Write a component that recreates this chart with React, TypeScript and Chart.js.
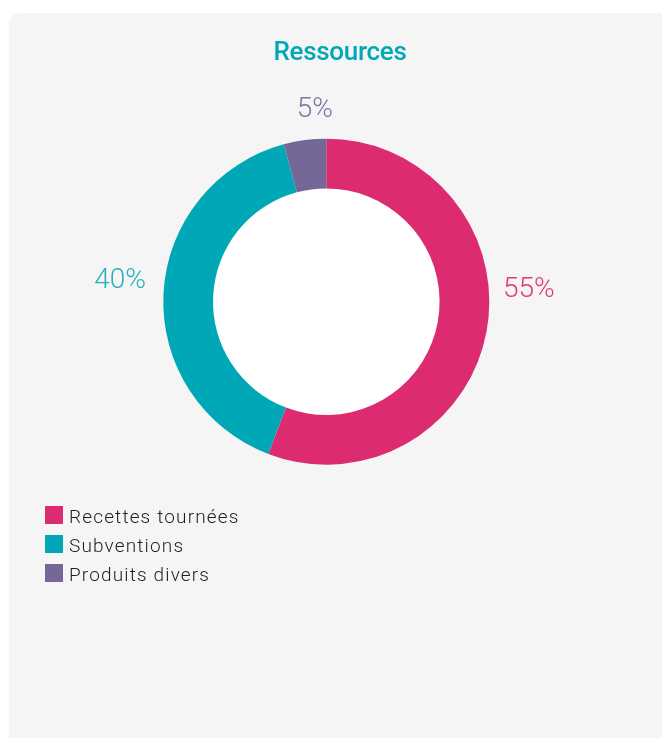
import React, { useEffect, useRef } from "react";
import { Chart, registerables } from "chart.js";

Chart.register(...registerables);

const titleText = "Ressources";
const categories = ["Recettes tournées", "Subventions", "Produits divers"];
const shares = [55.8, 40.0, 4.2];
const shareLabels = ["55%", "40%", "5%"];
const sliceColors = ["#dc2b70", "#00a8b7", "#766799"];
const labelColors = ["#e23a78", "#2cb0bc", "#8073a5"];

const labelNudges: [number, number][] = [
  [2.6, -36.8],
  [-3.5, -4.6],
  [14.1, 8.6],
];

const decorPlugin = {
  id: "decor",
  beforeDatasetsDraw(chart: any) {
    const meta = chart.getDatasetMeta(0);
    const arc = meta.data[0];
    if (!arc) return;
    const { x, y, innerRadius } = arc.getProps(["x", "y", "innerRadius"], true);
    const ctx = chart.ctx;
    ctx.save();
    ctx.beginPath();
    ctx.arc(x, y, innerRadius, 0, Math.PI * 2);
    ctx.fillStyle = "#ffffff";
    ctx.fill();
    ctx.restore();
  },
  afterDraw(chart: any) {
    const ctx = chart.ctx;
    const meta = chart.getDatasetMeta(0);
    ctx.save();
    // title
    ctx.font = "500 26px Roboto";
    (ctx as any).letterSpacing = "-0.3px";
    ctx.fillStyle = "#00a8b5";
    ctx.textAlign = "center";
    ctx.textBaseline = "alphabetic";
    ctx.fillText(titleText, 340, 60);

    // slice labels
    ctx.font = "300 28px Roboto";
    (ctx as any).letterSpacing = "0px";
    meta.data.forEach((el: any, i: number) => {
      const { startAngle, endAngle, outerRadius, x, y } = el.getProps(
        ["startAngle", "endAngle", "outerRadius", "x", "y"],
        true
      );
      const mid = (startAngle + endAngle) / 2;
      const c = Math.cos(mid);
      const s = Math.sin(mid);
      let align: CanvasTextAlign = "center";
      let r = outerRadius + 32;
      if (Math.abs(c) > 0.5) {
        align = c > 0 ? "left" : "right";
        r = outerRadius + 14;
      }
      const n = labelNudges[i] || [0, 0];
      ctx.textAlign = align;
      ctx.fillStyle = labelColors[i];
      ctx.fillText(shareLabels[i], x + r * c + n[0], y + r * s + n[1]);
    });

    // legend
    ctx.font = "300 19px Roboto";
    (ctx as any).letterSpacing = "1.15px";
    ctx.textAlign = "left";
    chart.data.labels.forEach((lab: string, i: number) => {
      ctx.fillStyle = sliceColors[i];
      ctx.fillRect(45, 506 + i * 29, 18, 18);
      ctx.fillStyle = "#1f1f1f";
      ctx.fillText(lab, 69, 522.5 + i * 29);
    });
    ctx.restore();
  },
};

export default function App() {
  const ref = useRef<HTMLCanvasElement | null>(null);
  useEffect(() => {
    if (!ref.current) return;
    const chart = new Chart(ref.current, {
      type: "doughnut",
      data: {
        labels: categories,
        datasets: [
          {
            data: shares,
            backgroundColor: sliceColors,
            borderWidth: 0,
            hoverOffset: 0,
          },
        ],
      },
      options: {
        animation: false,
        responsive: true,
        maintainAspectRatio: false,
        cutout: "69.5%",
        layout: {
          padding: { left: 163.3, right: 172.7, top: 138.7, bottom: 275.3 },
        },
        plugins: {
          legend: { display: false },
          tooltip: { enabled: false },
          title: { display: false },
        },
        events: [],
      },
      plugins: [decorPlugin],
    });
    return () => chart.destroy();
  }, []);

  return (
    <>
      <div
        style={{
          position: "absolute",
          left: 9,
          top: 13,
          width: 653,
          height: 725,
          background: "#f5f5f5",
          borderTopLeftRadius: 11,
        }}
      />
      <div
        style={{ position: "absolute", left: 0, top: 0, width: 662, height: 740 }}
      >
        <canvas ref={ref} />
      </div>
    </>
  );
}
